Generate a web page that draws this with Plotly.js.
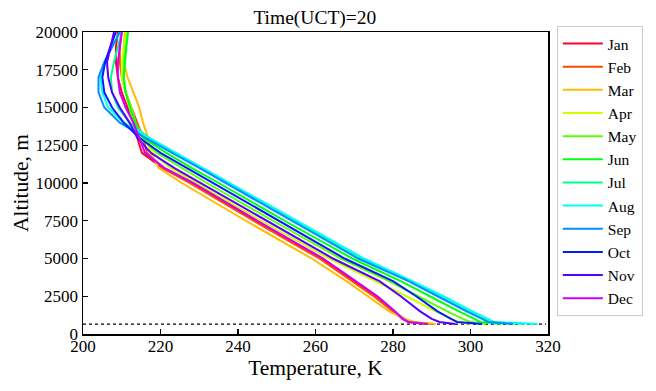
<!DOCTYPE html>
<html>
<head>
<meta charset="utf-8">
<script src="https://cdn.plot.ly/plotly-3.0.1.min.js"></script>
<style>html,body{margin:0;padding:0;background:#fff;}#chart{width:656px;height:391px;}</style>
</head>
<body>
<div id="chart"></div>
<script>
// Altitude levels (m)
const altitude = [660, 800, 1000, 1500, 2500, 3500, 5000, 7500, 10000, 11000, 12000, 13000, 14000, 15000, 16000, 17000, 18000, 19000, 20000];
const months = ["Jan","Feb","Mar","Apr","May","Jun","Jul","Aug","Sep","Oct","Nov","Dec"];
// Temperature (K) per month at each altitude level
const tJan = [289, 284, 282.5, 280, 275.5, 270, 261.5, 244.5, 228, 220.5, 215.2, 214, 213, 211.5, 210, 209, 208.5, 208.5, 209];
const tFeb = [290, 284.5, 283, 280, 275, 269.5, 261, 244, 227.5, 220.5, 216.5, 215.5, 214, 212.5, 211, 210, 209.5, 209.5, 210];
const tMar = [291, 285.5, 283, 279, 273.5, 268, 259, 242, 225.5, 219.5, 217.5, 216.8, 215.5, 214.5, 213, 211.5, 210.5, 210.5, 210.8];
const tApr = [300, 297, 295, 291, 283.5, 275.5, 263.5, 246, 229, 222.5, 218, 215.5, 213.5, 212.5, 211, 210, 210, 210.5, 211.2];
const tMay = [304, 300, 298, 294, 286.5, 279, 266.5, 249, 232, 225.5, 219, 215, 213, 212, 211, 210.5, 210.5, 211, 211.6];
const tJun = [308, 302.5, 301, 297, 289.5, 282, 269.5, 252, 235, 228, 221.5, 215.5, 213.5, 212.3, 211, 210.5, 210.8, 211.2, 211.6];
const tJul = [314, 305, 303.5, 299.5, 292, 284.5, 272, 254.5, 237.5, 230.5, 223.5, 217, 212, 209, 207.5, 207.2, 208, 209, 210];
const tAug = [317.3, 306, 304.5, 300.5, 293, 285, 272.5, 255.3, 238, 231, 224, 217, 210.5, 206.5, 205, 204.5, 205.5, 207.5, 209.5];
const tSep = [311, 304.5, 303, 299, 291.5, 284, 271, 254, 237, 230, 223, 216, 209.5, 205.5, 204, 204, 205.5, 207.5, 209.5];
const tOct = [303, 296.5, 295, 291.5, 286, 280, 267.5, 250.5, 233.5, 226.5, 220, 214.5, 210.5, 207.5, 205.5, 205, 205.7, 207, 208.5];
const tNov = [296, 292, 290, 287, 282, 276.5, 264.5, 247.5, 230.5, 223.5, 217.5, 214, 212, 209.5, 207.5, 206.5, 206.2, 207, 208];
const tDec = [289, 284, 282.5, 280.5, 276, 270.5, 262, 245, 228.5, 221, 216, 214.5, 213, 211, 209.5, 209, 209, 209.5, 210];
const temps = [tJan, tFeb, tMar, tApr, tMay, tJun, tJul, tAug, tSep, tOct, tNov, tDec];
const surfaceAltitude = 660;
const surfaceLineT = [200, 319.5];
const colors = ["#ff0029","#ff4900","#ffbc00","#cfff00","#5cff00","#00ff17","#00ff89","#00fffb","#008fff","#001cff","#5800ff","#cb00ff"];
const xTicks = [200, 220, 240, 260, 280, 300, 320];
const yTicks = [0, 2500, 5000, 7500, 10000, 12500, 15000, 17500, 20000];

const serif = "Liberation Serif";
const traces = months.map((m, i) => ({
  x: temps[i], y: altitude, type: "scatter", mode: "lines", name: m,
  line: {color: colors[i], width: 2}
}));
traces.unshift({
  x: surfaceLineT, y: [surfaceAltitude, surfaceAltitude], type: "scatter", mode: "lines",
  line: {color: "#000", width: 1.2, dash: "dot"}, showlegend: false, hoverinfo: "skip"
});

const layout = {
  width: 656, height: 391,
  margin: {l: 83, r: 108, t: 32, b: 57},
  paper_bgcolor: "#fff", plot_bgcolor: "#fff",
  font: {family: serif, color: "#000"},
  title: {text: "Time(UCT)=20", font: {family: serif, size: 19.5, color: "#000"}, x: 0.48, xanchor: "center", y: 0.955, yanchor: "middle"},
  xaxis: {
    range: [200, 320], tickvals: xTicks, ticktext: xTicks.map(String),
    ticks: "inside", ticklen: 5, tickwidth: 1.2, tickcolor: "#000",
    ticklabelstandoff: -4,
    showline: true, linecolor: "#000", linewidth: 1.5, mirror: true,
    showgrid: false, zeroline: false,
    tickfont: {family: serif, size: 17, color: "#000"},
    title: {text: "Temperature, K", font: {family: serif, size: 21.5, color: "#000"}, standoff: 2}
  },
  yaxis: {
    range: [0, 20000], tickvals: yTicks, ticktext: yTicks.map(String),
    ticks: "inside", ticklen: 5, tickwidth: 1.2, tickcolor: "#000",
    showline: true, linecolor: "#000", linewidth: 1.5, mirror: true,
    showgrid: false, zeroline: false,
    tickfont: {family: serif, size: 17, color: "#000"},
    title: {text: "Altitude, m", font: {family: serif, size: 21.5, color: "#000"}, standoff: 1}
  },
  showlegend: true,
  legend: {
    x: 1.019, y: 1.02, xanchor: "left", yanchor: "top",
    bgcolor: "#fff", bordercolor: "#cccccc", borderwidth: 1,
    font: {family: serif, size: 15.5, color: "#000"},
    tracegroupgap: 0, itemwidth: 40, maxheight: 380
  }
};
Plotly.newPlot("chart", traces, layout, {displayModeBar: false, staticPlot: true});
</script>
</body>
</html>
